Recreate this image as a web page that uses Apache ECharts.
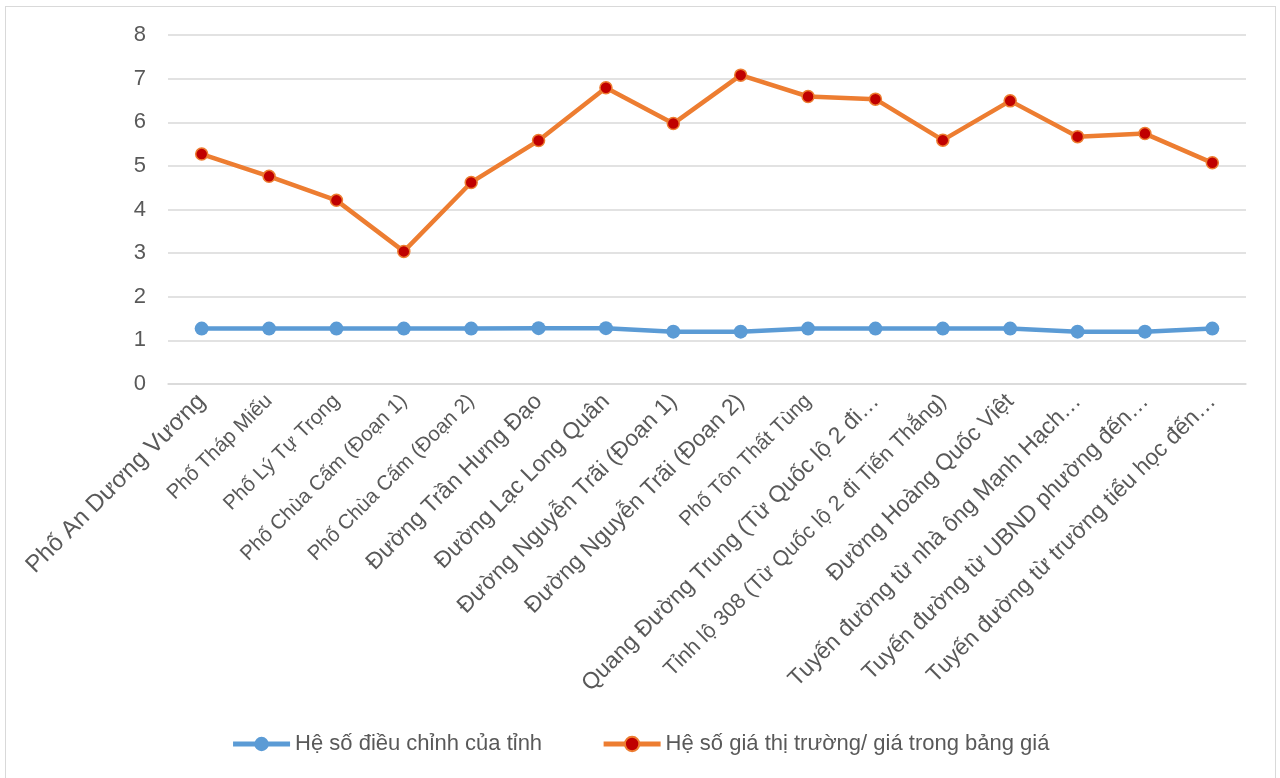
<!DOCTYPE html>
<html>
<head>
<meta charset="utf-8">
<script src="https://cdn.jsdelivr.net/npm/echarts@6/dist/echarts.min.js"></script>
<style>
  html, body { margin: 0; padding: 0; background: #fff; }
  #frame { position: absolute; left: 5px; top: 6px; width: 1271px; height: 780px; border: 1.5px solid #d9d9d9; box-sizing: border-box; }
  #chart { position: absolute; left: 0; top: 0; width: 1280px; height: 778px; }
</style>
</head>
<body>
<div id="frame"></div>
<div id="chart"></div>
<script>
// danh sách tuyến đường
var categories = [
  'Phố An Dương Vương',
  'Phố Tháp Miếu',
  'Phố Lý Tự Trọng',
  'Phố Chùa Cấm (Đoạn 1)',
  'Phố Chùa Cấm (Đoạn 2)',
  'Đường Trần Hưng Đạo',
  'Đường Lạc Long Quân',
  'Đường Nguyễn Trãi (Đoạn 1)',
  'Đường Nguyễn Trãi (Đoạn 2)',
  'Phố Tôn Thất Tùng',
  'Quang Đường Trung (Từ Quốc lộ 2 đi…',
  'Tỉnh lộ 308 (Từ Quốc lộ 2 đi Tiến Thắng)',
  'Đường Hoàng Quốc Việt',
  'Tuyến đường từ nhà ông Mạnh Hạch…',
  'Tuyến đường từ UBND phường đến…',
  'Tuyến đường từ trường tiểu học đến…'
]
var seriesNames = ['Hệ số điều chỉnh của tỉnh', 'Hệ số giá thị trường/ giá trong bảng giá']
var provinceCoef = [1.27, 1.27, 1.27, 1.27, 1.27, 1.28, 1.28, 1.2, 1.2, 1.27, 1.27, 1.27, 1.27, 1.2, 1.2, 1.27]
var marketCoef = [5.27, 4.76, 4.21, 3.04, 4.62, 5.58, 6.79, 5.97, 7.08, 6.59, 6.53, 5.59, 6.49, 5.67, 5.74, 5.07]
var yTicks = [0, 1, 2, 3, 4, 5, 6, 7, 8]

var chart = echarts.init(document.getElementById('chart'))
var font = '"Liberation Sans", Arial, sans-serif'

// nhãn "Phố"/"Tỉnh" hiển thị nhỏ hơn trong bản gốc
function labelStyle(v, i) {
  if (i === 0) return 'xl'
  if (/^Phố/.test(v)) return 'sm'
  if (/^Tỉnh/.test(v)) return 'md'
  return 'lg'
}

chart.setOption({
  animation: false,
  textStyle: { fontFamily: font },
  grid: {
    left: 168,
    right: 34,
    top: 35,
    bottom: 394
  },
  legend: {
    bottom: 18,
    left: 'center',
    itemGap: 59,
    itemWidth: 57,
    itemHeight: 18,
    itemTextGap: 4,
    lineStyle: { width: 5 },
    textStyle: { fontSize: 22, color: '#595959', fontFamily: font },
    data: seriesNames
  },
  xAxis: {
    type: 'category',
    data: categories,
    boundaryGap: true,
    axisLine: { lineStyle: { color: '#d9d9d9', width: 1.5 } },
    axisTick: { show: false },
    axisLabel: {
      interval: 0,
      rotate: 45,
      margin: 14,
      color: '#595959',
      fontFamily: font,
      formatter: function (v, i) {
        return '{' + labelStyle(v, i) + '|' + v + '}'
      },
      rich: {
        sm: { fontSize: 20.5, color: '#595959', fontFamily: font },
        md: { fontSize: 21.5, color: '#595959', fontFamily: font },
        lg: { fontSize: 23, color: '#595959', fontFamily: font },
        xl: { fontSize: 24, color: '#595959', fontFamily: font }
      }
    }
  },
  yAxis: {
    type: 'value',
    min: yTicks[0],
    max: yTicks[yTicks.length - 1],
    interval: 1,
    axisLine: { show: false },
    axisTick: { show: false },
    axisLabel: { fontSize: 22, color: '#595959', margin: 22, fontFamily: font },
    splitLine: { lineStyle: { color: '#d9d9d9', width: 1.5 } }
  },
  series: [
    {
      name: seriesNames[0],
      type: 'line',
      data: provinceCoef,
      symbol: 'circle',
      symbolSize: 14,
      lineStyle: { color: '#5B9BD5', width: 4.5 },
      itemStyle: { color: '#5B9BD5', borderColor: '#5B9BD5', borderWidth: 0 }
    },
    {
      name: seriesNames[1],
      type: 'line',
      data: marketCoef,
      symbol: 'circle',
      symbolSize: 12,
      lineStyle: { color: '#ED7D31', width: 4.5 },
      itemStyle: { color: '#C00000', borderColor: '#ED7D31', borderWidth: 1.5 }
    }
  ]
})
</script>
</body>
</html>
